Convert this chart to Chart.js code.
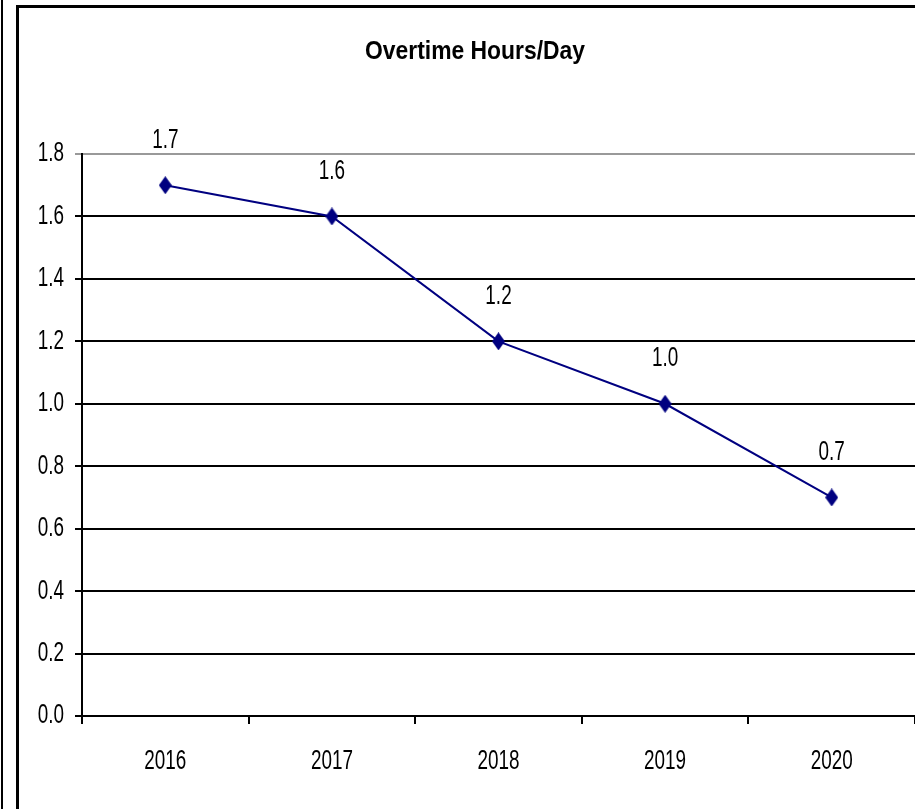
<!DOCTYPE html>
<html>
<head>
<meta charset="utf-8">
<title>Overtime Hours/Day</title>
<script src="https://cdn.jsdelivr.net/npm/chart.js@4/dist/chart.umd.min.js"></script>
<style>
  html, body { margin: 0; padding: 0; background: #fff; overflow: hidden; }
  #wrap { width: 915px; height: 809px; position: relative; }
</style>
</head>
<body>
<div id="wrap"><canvas id="overtimeChart"></canvas></div>
<script>
// Chart data
const years = ['2016', '2017', '2018', '2019', '2020'];
const overtimeHours = [1.7, 1.6, 1.2, 1.0, 0.7];
const yTickValues = [0.0, 0.2, 0.4, 0.6, 0.8, 1.0, 1.2, 1.4, 1.6, 1.8];
const chartTitle = 'Overtime Hours/Day';

const FONT = '"Liberation Sans", Arial, sans-serif';
// the original text is narrow (squeezed sideways)
const SQUEEZE = 0.7;

/**
 * Draw text squeezed horizontally around its anchor
 */
function squeezedText(ctx, text, x, y, align, sx) {
  ctx.save();
  ctx.translate(x, y);
  ctx.scale(sx, 1);
  ctx.textAlign = align;
  ctx.textBaseline = 'middle';
  ctx.fillText(text, 0, 0);
  ctx.restore();
}

/**
 * Tall, narrow diamond used as the point marker
 */
function makeDiamond(w, h, color) {
  const c = document.createElement('canvas');
  c.width = w;
  c.height = h;
  const g = c.getContext('2d');
  g.fillStyle = color;
  g.beginPath();
  g.moveTo(w / 2, 0);
  g.lineTo(w, h / 2);
  g.lineTo(w / 2, h);
  g.lineTo(0, h / 2);
  g.closePath();
  g.fill();
  return c;
}

/**
 * Frame lines, title and axis labels, drawn on the canvas
 */
const framePlugin = {
  id: 'frame',
  beforeDraw(chart) {
    const ctx = chart.ctx;
    ctx.save();
    ctx.fillStyle = '#fff';
    ctx.fillRect(0, 0, chart.width, chart.height);
    ctx.strokeStyle = '#000';
    ctx.lineWidth = 2;
    ctx.beginPath();
    ctx.moveTo(2, 0);
    ctx.lineTo(2, chart.height);
    ctx.stroke();
    ctx.lineWidth = 3;
    ctx.beginPath();
    ctx.moveTo(17.5, chart.height);
    ctx.lineTo(17.5, 6.5);
    ctx.lineTo(chart.width, 6.5);
    ctx.stroke();
    ctx.restore();
  },
  afterDraw(chart) {
    const ctx = chart.ctx;
    const xScale = chart.scales.x;
    const yScale = chart.scales.y;
    ctx.save();
    ctx.fillStyle = '#000';

    ctx.font = 'bold 26px ' + FONT;
    squeezedText(ctx, chartTitle, 475, 52, 'center', 0.88);

    ctx.font = '27px ' + FONT;
    yTickValues.forEach(v => {
      squeezedText(ctx, v.toFixed(1), 64, yScale.getPixelForValue(v), 'right', SQUEEZE);
    });
    years.forEach((yr, i) => {
      squeezedText(ctx, yr, xScale.getPixelForValue(i), 762, 'center', SQUEEZE);
    });
    ctx.restore();
  }
};

/**
 * Value labels above each point
 */
const valueLabelPlugin = {
  id: 'valueLabels',
  afterDatasetsDraw(chart) {
    const ctx = chart.ctx;
    const meta = chart.getDatasetMeta(0);
    ctx.save();
    ctx.fillStyle = '#000';
    ctx.font = '27px ' + FONT;
    meta.data.forEach((pt, i) => {
      squeezedText(ctx, overtimeHours[i].toFixed(1), pt.x, pt.y - 45, 'center', SQUEEZE);
    });
    ctx.restore();
  }
};

const diamond = makeDiamond(13, 18, '#000080');

const chartCtx = document.getElementById('overtimeChart').getContext('2d');
const overtimeChart = new Chart(chartCtx, {
  type: 'line',
  data: {
    labels: years,
    datasets: [{
      label: chartTitle,
      data: overtimeHours,
      borderColor: '#000080',
      backgroundColor: '#000080',
      borderWidth: 2,
      pointStyle: diamond,
      pointRadius: 9,
      pointHoverRadius: 9,
      fill: false,
      tension: 0
    }]
  },
  options: {
    responsive: true,
    maintainAspectRatio: false,
    animation: false,
    devicePixelRatio: 1,
    layout: { autoPadding: false, padding: { top: 154, right: 0, bottom: 0, left: 0 } },
    plugins: {
      legend: { display: false },
      title: { display: false },
      tooltip: { enabled: false }
    },
    scales: {
      x: {
        offset: true,
        afterFit(scale) { scale.height = 93; },
        grid: {
          offset: true,
          drawOnChartArea: false,
          drawTicks: true,
          tickLength: 8,
          color: '#000',
          lineWidth: 2
        },
        border: { display: true, color: '#000', width: 2 },
        ticks: { display: false }
      },
      y: {
        min: 0,
        max: 1.8,
        afterFit(scale) { scale.width = 82; },
        afterBuildTicks(scale) {
          scale.ticks = yTickValues.map(v => ({ value: v }));
        },
        grid: {
          drawTicks: true,
          tickLength: 7,
          lineWidth: 2,
          color(c) {
            return c.tick && c.tick.value >= 1.79 ? '#999' : '#000';
          }
        },
        border: { display: true, color: '#000', width: 2 },
        ticks: { display: false }
      }
    }
  },
  plugins: [framePlugin, valueLabelPlugin]
});
</script>
</body>
</html>
